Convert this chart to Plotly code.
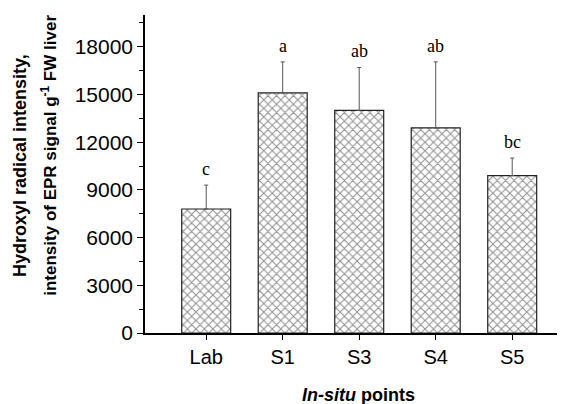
import plotly.graph_objects as go

categories = ["Lab", "S1", "S3", "S4", "S5"]
values = [7800, 15100, 14000, 12900, 9900]
errors = [1500, 1950, 2700, 4150, 1100]
letters = ["c", "a", "ab", "ab", "bc"]
y_ticks = [0, 3000, 6000, 9000, 12000, 15000, 18000]

fig = go.Figure()
fig.add_trace(go.Bar(
    x=list(range(len(categories))),
    y=values,
    width=0.64,
    marker=dict(
        color="white",
        line=dict(color="#222222", width=1.2),
        pattern=dict(shape="x", size=6, solidity=0.32, fgcolor="#222222", bgcolor="white"),
    ),
    error_y=dict(type="data", array=errors, arrayminus=[0] * len(errors),
                 color="#555555", thickness=1, width=2),
    showlegend=False,
))

for i, (v, e, t) in enumerate(zip(values, errors, letters)):
    fig.add_annotation(x=i, y=v + e, text=t, showarrow=False, yanchor="bottom", yshift=4,
                       font=dict(family="Liberation Serif, Times New Roman, serif", size=18, color="black"))

fig.add_annotation(xref="paper", yref="paper", x=-0.2976, y=0.525, textangle=-90,
                   text="<b>Hydroxyl radical intensity,</b>", showarrow=False,
                   xanchor="center", yanchor="middle",
                   font=dict(family="Liberation Sans, Arial, sans-serif", size=18, color="black"))
fig.add_annotation(xref="paper", yref="paper", x=-0.229, y=0.56, textangle=-90,
                   text="<b>intensity of EPR signal g<sup>-1</sup> FW liver</b>", showarrow=False,
                   xanchor="center", yanchor="middle",
                   font=dict(family="Liberation Sans, Arial, sans-serif", size=17, color="black"))
fig.add_annotation(xref="paper", yref="paper", x=0.5095, y=-0.195,
                   text="<b><i>In-situ</i> points</b>", showarrow=False,
                   xanchor="center", yanchor="middle",
                   font=dict(family="Liberation Sans, Arial, sans-serif", size=18, color="black"))

fig.update_layout(
    width=557, height=396,
    margin=dict(l=137, r=0, t=7, b=71),
    paper_bgcolor="white", plot_bgcolor="white",
    font=dict(family="Liberation Sans, Arial, sans-serif", color="black"),
)
fig.update_xaxes(
    range=[-0.8, 4.69],
    tickmode="array", tickvals=list(range(len(categories))), ticktext=categories,
    ticks="outside", ticklen=5, tickwidth=1.2, tickcolor="black",
    tickfont=dict(size=20),
    showline=True, linecolor="black", linewidth=1.5,
    showgrid=False, zeroline=False,
)
fig.update_yaxes(
    range=[0, 20000],
    tickmode="array", tickvals=y_ticks, ticktext=[str(t) for t in y_ticks],
    ticks="outside", ticklen=6, tickwidth=1.2, tickcolor="black",
    tickfont=dict(size=21),
    minor=dict(dtick=1500, tick0=0, ticks="outside", ticklen=4, tickwidth=1.2, tickcolor="black", showgrid=False),
    showline=True, linecolor="black", linewidth=1.5,
    showgrid=False, zeroline=False,
)

fig.write_html("out.html")
